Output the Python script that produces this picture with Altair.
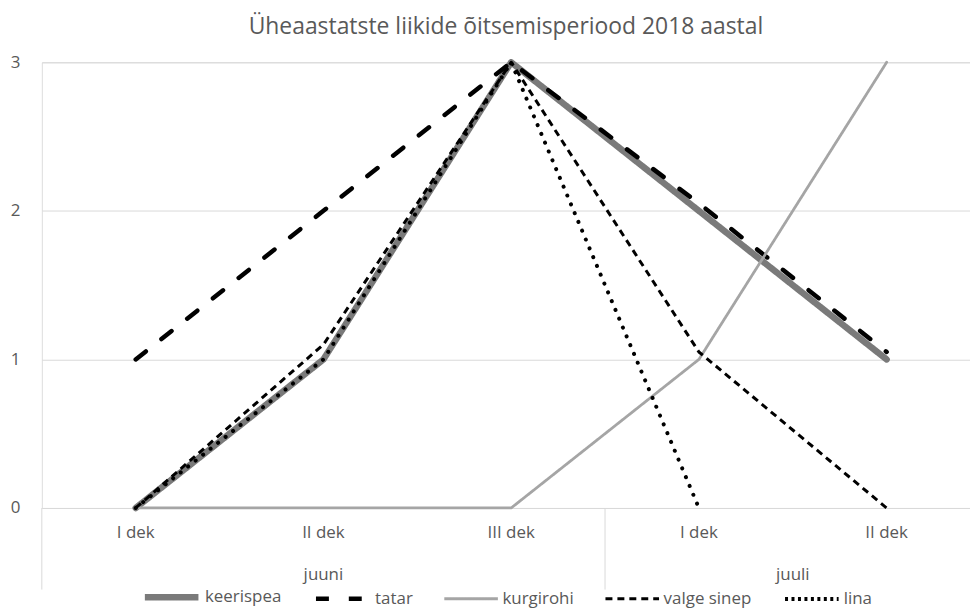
import altair as alt
import pandas as pd

# ---- data ----
categories = ["I dek", "II dek", "III dek", "I dek", "II dek"]
months = ["juuni", "juuli"]
month_centers = [1.0, 3.5]
separators = [-0.5, 2.5]
series_names = ["keerispea", "tatar", "kurgirohi", "valge sinep", "lina"]
keerispea = [0, 1, 3, 2, 1]
tatar = [1, 2, 3, 2.05, 1.05]
kurgirohi = [0, 0, 0, 1, 3]
valge_sinep = [0, 1.1, 3, 1.05, 0]
lina = [0, 1, 3, 0, None]
y_ticks = [0, 1, 2, 3]
title_text = "Üheaastatste liikide õitsemisperiood 2018 aastal"

# ---- build tables ----
values = {"keerispea": keerispea, "tatar": tatar, "kurgirohi": kurgirohi,
          "valge sinep": valge_sinep, "lina": lina}
rows = []
for name in series_names:
    for i, v in enumerate(values[name]):
        if v is not None:
            rows.append({"idx": i, "series": name, "value": v})
df = pd.DataFrame(rows)
cat_df = pd.DataFrame({"idx": list(range(len(categories))), "label": categories})
month_df = pd.DataFrame({"idx": month_centers, "label": months})
sep_df = pd.DataFrame({"idx": separators})

# ---- styles ----
FONT = "Open Sans"
TXT = "#595959"
GRID = "#d9d9d9"
W, H = 933, 448
colors = ["#7a7a7a", "#000000", "#a5a5a5", "#000000", "#000000"]
widths = [6.5, 4.5, 2.8, 3, 4]
dashes = [[1, 0], [13, 20], [1, 0], [7, 5], [3, 3.5]]

xscale = alt.Scale(domain=[-0.5, 4.444], nice=False, zero=False)
yscale = alt.Scale(domain=[0, 3], nice=False)

legend = alt.Legend(orient="none", legendX=100, legendY=507, direction="horizontal",
                    title=None, symbolType="stroke", symbolSize=2900,
                    labelFontSize=17, labelFont=FONT, labelColor=TXT,
                    columnPadding=25, labelOffset=3, padding=0)

color_enc = alt.Color("series:N", scale=alt.Scale(domain=series_names, range=colors), legend=legend)
width_enc = alt.StrokeWidth("series:N", scale=alt.Scale(type="ordinal", domain=series_names, range=widths), legend=legend)
dash_enc = alt.StrokeDash("series:N", scale=alt.Scale(domain=series_names, range=dashes), legend=legend)

x_enc = alt.X("idx:Q", scale=xscale, axis=None)
y_enc = alt.Y("value:Q", scale=yscale,
              axis=alt.Axis(values=y_ticks, format="d", grid=True, gridColor=GRID, gridWidth=1,
                            domain=False, ticks=False, labelPadding=22, labelFontSize=17,
                            labelFont=FONT, labelColor=TXT, title=None))

base = alt.Chart(df)

def line_layer(name, **kw):
    enc = dict(x=x_enc, y=y_enc, color=color_enc, strokeWidth=width_enc)
    if name != "lina":
        enc["strokeDash"] = dash_enc
    return base.transform_filter(alt.datum.series == name).mark_line(**kw).encode(**enc)

layers = [
    line_layer("keerispea", strokeCap="round", strokeJoin="round"),
    line_layer("tatar", strokeCap="round", strokeJoin="round"),
    line_layer("kurgirohi", strokeCap="round", strokeJoin="round"),
    line_layer("valge sinep", strokeCap="butt", strokeJoin="round"),
    line_layer("lina", strokeCap="round", strokeJoin="round", strokeDash=[0.1, 9.5]),
]

sep = alt.Chart(sep_df).mark_rule(color=GRID, strokeWidth=1).encode(
    x=alt.X("idx:Q", scale=xscale, axis=None), y=alt.value(H), y2=alt.value(H + 82))
cat_text = alt.Chart(cat_df).mark_text(font=FONT, fontSize=17, color=TXT, baseline="middle").encode(
    x=alt.X("idx:Q", scale=xscale, axis=None), y=alt.value(H + 25), text="label:N")
month_text = alt.Chart(month_df).mark_text(font=FONT, fontSize=17, color=TXT, baseline="middle").encode(
    x=alt.X("idx:Q", scale=xscale, axis=None), y=alt.value(H + 67), text="label:N")

chart = alt.layer(sep, cat_text, month_text, *layers).properties(
    width=W, height=H,
    title=alt.TitleParams(title_text, font=FONT, fontSize=23, fontWeight="normal", color=TXT,
                          anchor="middle", offset=14, dx=0),
    autosize=alt.AutoSizeParams(type="none"),
    padding={"left": 34, "top": 53, "right": 0, "bottom": 104},
).configure_view(stroke=None).configure(background="white")

chart.save("out.html", embed_options={"renderer": "svg", "actions": False})
